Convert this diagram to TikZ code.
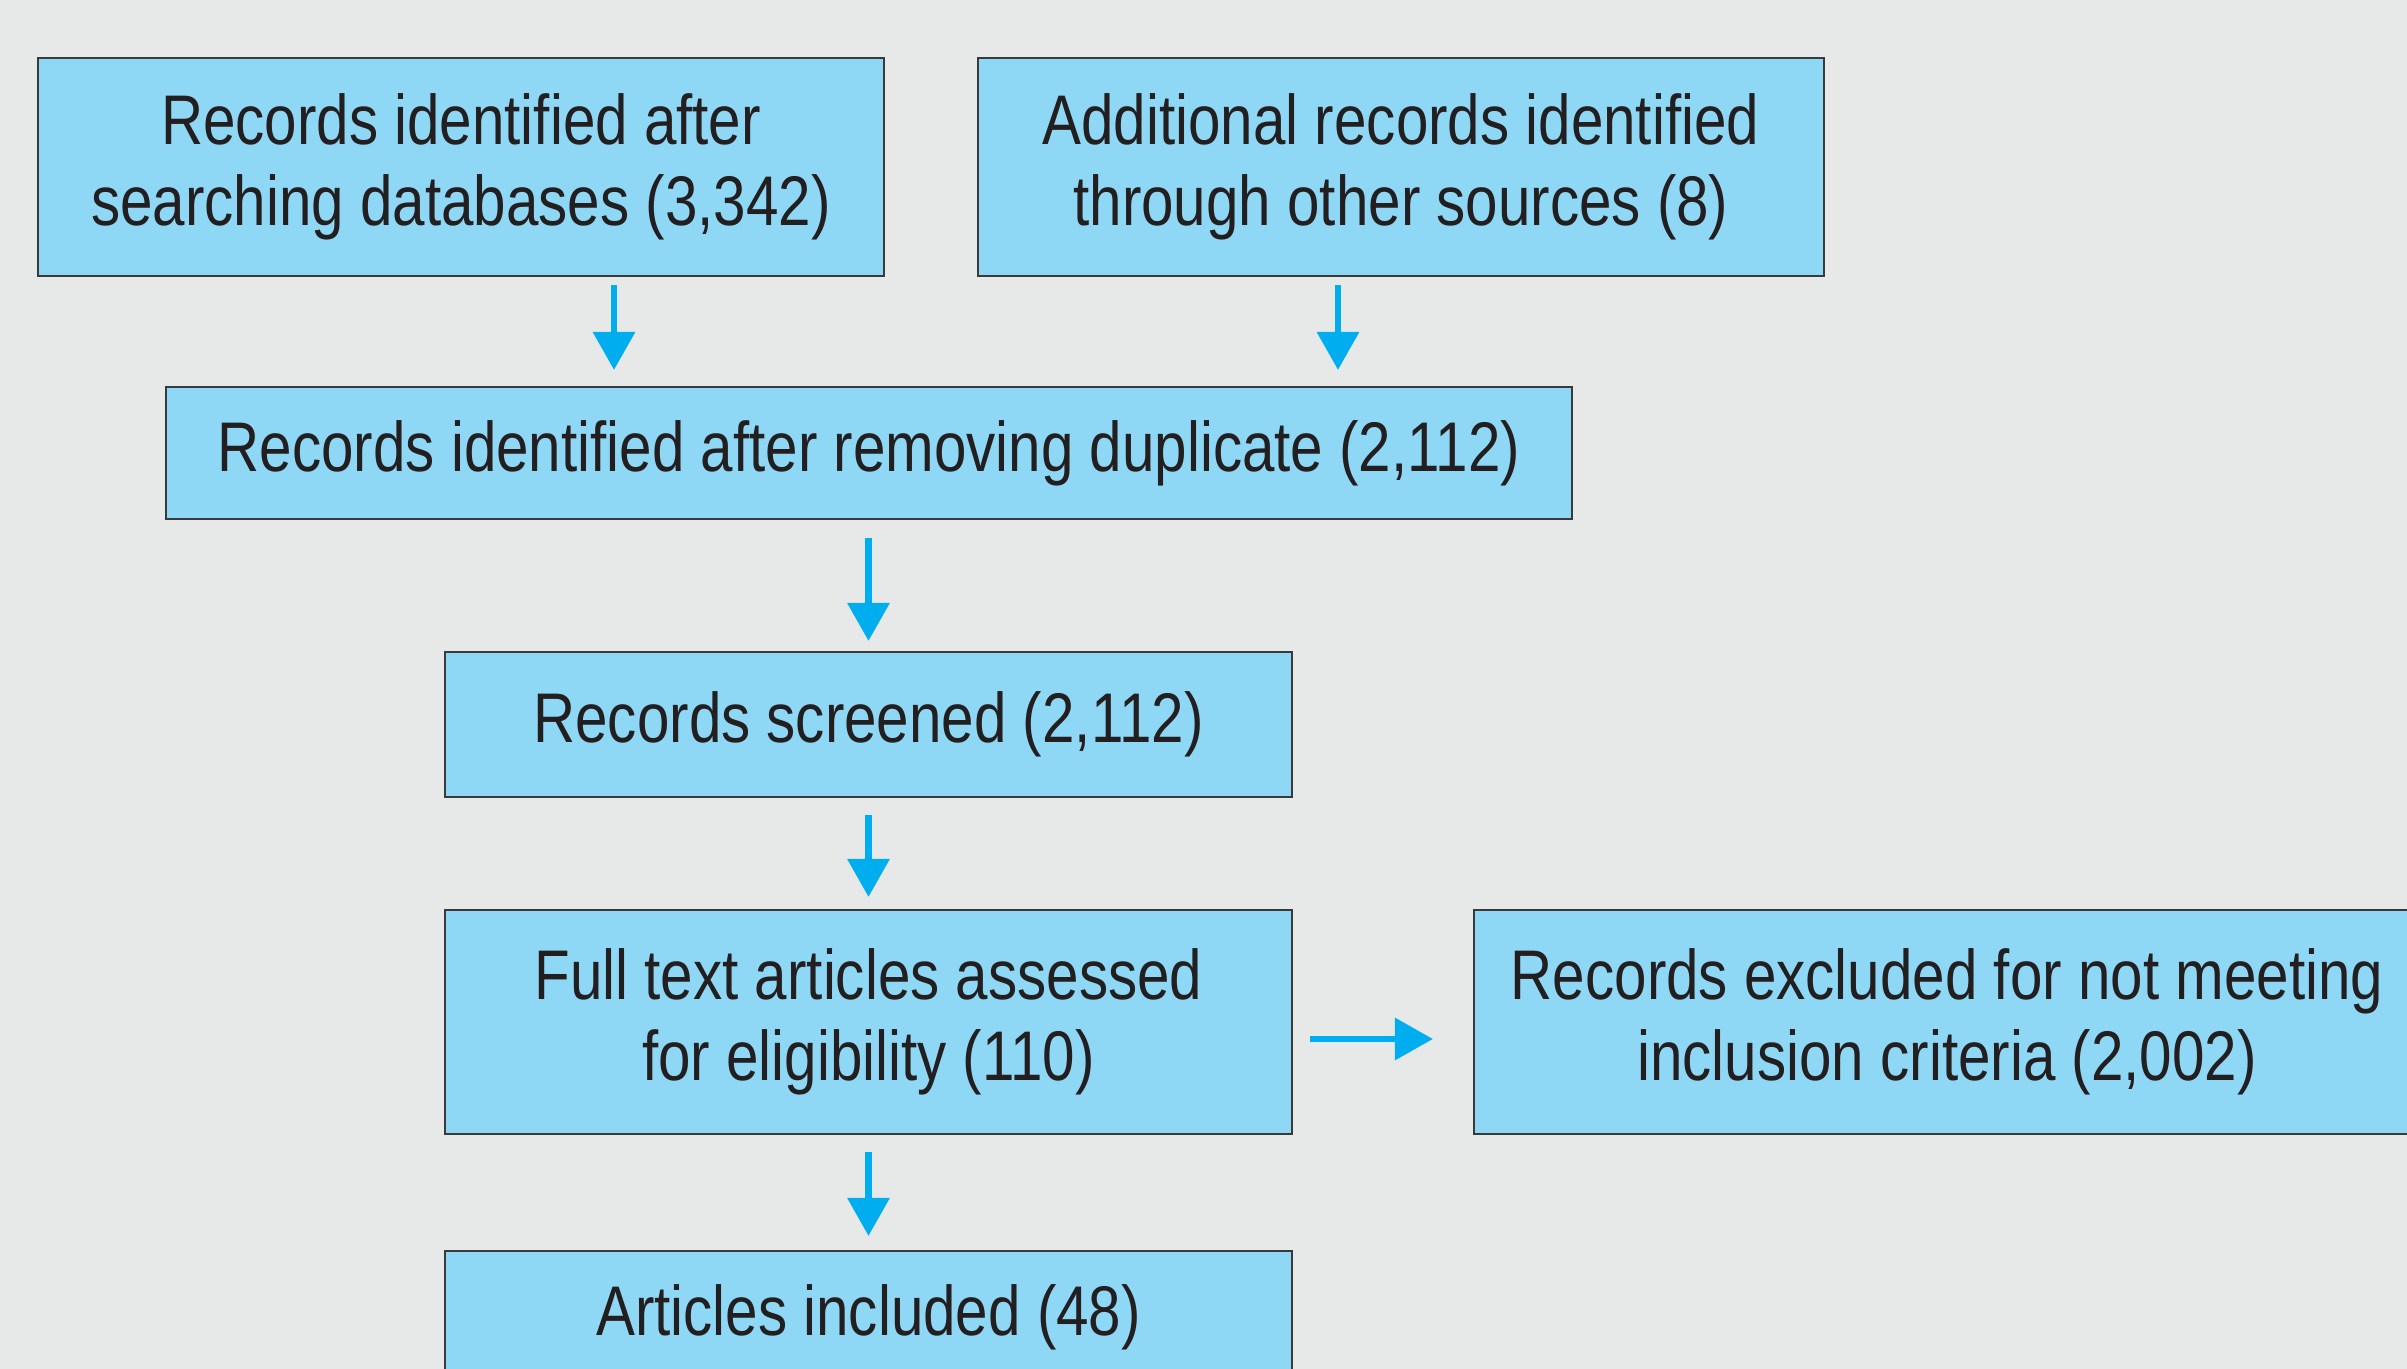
\documentclass[tikz,border=0pt]{standalone}
\usepackage{fontspec}
\setmainfont[FakeStretch=0.83]{Liberation Sans}
\usetikzlibrary{arrows.meta}
\definecolor{bgcol}{HTML}{E7E9E8}
\definecolor{boxcol}{HTML}{8ED8F6}
\definecolor{arrowcol}{HTML}{00AEEF}
\definecolor{txtcol}{HTML}{231F20}
\definecolor{edgecol}{HTML}{3A3A3A}
\begin{document}
\begin{tikzpicture}[
    box/.style={draw=edgecol, line width=0.6pt, fill=boxcol, text=txtcol,
      align=center, inner sep=0pt, font=\fontsize{20}{23}\selectfont},
    flow/.style={draw=arrowcol, line width=0.65mm,
      -{Triangle[width=4.1mm,length=3.8mm]}}]
        \path[use as bounding box, fill=bgcol] (0,0) rectangle (24.07,-13.69);
        \clip (0,0) rectangle (24.07,-13.69);
        \node[box, minimum width=8.46cm, minimum height=2.18cm] (dbrec) at (4.61,-1.67)
            {Records identified after\\searching databases (3,342)};
        \node[box, minimum width=8.46cm, minimum height=2.18cm] (othrec) at (14.01,-1.67)
            {Additional records identified\\through other sources (8)};
        \node[box, minimum width=14.06cm, minimum height=1.32cm] (dedup) at (8.69,-4.53)
            {Records identified after removing duplicate (2,112)};
        \node[box, minimum width=8.47cm, minimum height=1.45cm] (screen) at (8.685,-7.245)
            {Records screened (2,112)};
        \node[box, minimum width=8.47cm, minimum height=2.24cm] (fulltxt) at (8.685,-10.22)
            {Full text articles assessed\\for eligibility (110)};
        \node[box, minimum width=9.46cm, minimum height=2.24cm] (excl) at (19.47,-10.22)
            {Records excluded for not meeting\\inclusion criteria (2,002)};
        \node[box, minimum width=8.47cm, minimum height=1.32cm] (incl) at (8.685,-13.17)
            {Articles included (48)};
        \draw[flow, shorten <=0.8mm, shorten >=1.6mm]
            ([xshift=15.3mm]dbrec.south) -- ([xshift=15.3mm]dbrec.south |- dedup.north);
        \draw[flow, shorten <=0.8mm, shorten >=1.6mm]
            ([xshift=-6.3mm]othrec.south) -- ([xshift=-6.3mm]othrec.south |- dedup.north);
        \draw[flow, shorten <=1.8mm, shorten >=1.0mm] (dedup.south -| screen.north) -- (screen.north);
        \draw[flow, shorten <=1.7mm, shorten >=1.2mm] (screen.south) -- (fulltxt.north);
        \draw[flow, shorten <=1.7mm, shorten >=1.4mm] (fulltxt.south) -- (incl.north);
        \draw[flow, shorten <=1.7mm, shorten >=4.0mm]
            ([yshift=-1.7mm]fulltxt.east) -- ([yshift=-1.7mm]fulltxt.east -| excl.west);
\end{tikzpicture}
\end{document}
